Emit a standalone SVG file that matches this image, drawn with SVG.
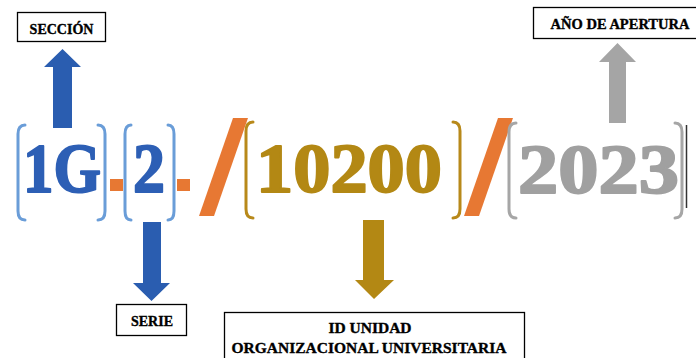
<svg xmlns="http://www.w3.org/2000/svg" width="696" height="358" viewBox="0 0 696 358">
<style>
.lbl{font-family:"Liberation Serif",serif;font-weight:bold;fill:#000;stroke:#000;stroke-width:0.35;text-anchor:middle}
.box{fill:#fff;stroke:#000;stroke-width:1.3}
.big{font-family:"Liberation Serif",serif;font-weight:bold;font-size:70px;stroke-width:2;stroke-linejoin:round}
.br{fill:none;stroke-width:3;stroke-linecap:round}
</style>
<rect width="696" height="358" fill="#fff"/>
<g id="code">
  <g id="seg-seccion">
    <path class="br" stroke="#6A9DD8" d="M25,125 Q18,125 18,134 V211 Q18,220 25,220"/>
    <path class="br" stroke="#6A9DD8" d="M98,125 Q105,125 105,134 V211 Q105,220 98,220"/>
    <text class="big" x="23" y="192" fill="#2D5FB5" stroke="#2D5FB5" textLength="78" lengthAdjust="spacingAndGlyphs">1G</text>
  </g>
  <rect x="110" y="179" width="13" height="12" fill="#E77833"/>
  <g id="seg-serie">
    <path class="br" stroke="#6A9DD8" d="M131,125 Q125,125 125,134 V211 Q125,220 131,220"/>
    <path class="br" stroke="#6A9DD8" d="M168,125 Q174,125 174,134 V211 Q174,220 168,220"/>
    <text class="big" x="133" y="192" fill="#2D5FB5" stroke="#2D5FB5" textLength="32" lengthAdjust="spacingAndGlyphs">2</text>
  </g>
  <rect x="177" y="179" width="13" height="12" fill="#E77833"/>
  <polygon points="233,118 248,118 214,216 199,216" fill="#E77833"/>
  <g id="seg-unidad">
    <path class="br" stroke="#B8891A" d="M253,122 Q246,122 246,131 V209 Q246,218 253,218"/>
    <path class="br" stroke="#B8891A" d="M453,122 Q460,122 460,131 V209 Q460,218 453,218"/>
    <text class="big" x="256" y="192" fill="#B38814" stroke="#B38814" textLength="186" lengthAdjust="spacingAndGlyphs">10200</text>
  </g>
  <polygon points="498,118 513,118 479,216 464,216" fill="#E77833"/>
  <g id="seg-anio">
    <path class="br" stroke="#A6A6A6" d="M516,123 Q509,123 509,132 V209 Q509,218 516,218"/>
    <path class="br" stroke="#A6A6A6" d="M675,123 Q682,123 682,132 V209 Q682,218 675,218"/>
    <text class="big" x="518" y="193" fill="#A0A0A0" stroke="#A0A0A0" textLength="161" lengthAdjust="spacingAndGlyphs">2023</text>
  </g>
  <line x1="686.5" y1="125" x2="686.5" y2="208" stroke="#333" stroke-width="1.5"/>
</g>
<g id="connectors">
  <polygon points="62.5,49 81,67 72,67 72,128 53,128 53,67 44,67" fill="#2A5DB0"/>
  <polygon points="143,222 161,222 161,283 170,283 151.5,301 133,283 143,283" fill="#2A5DB0"/>
  <polygon points="363,220 384,220 384,280 394,280 374,299 355,280 363,280" fill="#B38814"/>
  <polygon points="617.5,43 636,62 626,62 626,123 609,123 609,62 599,62" fill="#A5A5A5"/>
</g>
<g id="n-seccion">
  <rect class="box" x="17.5" y="12.5" width="88" height="29"/>
  <text class="lbl" x="61.5" y="34" font-size="14">SECCIÓN</text>
</g>
<g id="n-anio">
  <rect class="box" x="533.5" y="7.5" width="164" height="31"/>
  <text class="lbl" x="620" y="29" font-size="14.5">AÑO DE APERTURA</text>
</g>
<g id="n-serie">
  <rect class="box" x="116.5" y="304.5" width="70" height="31"/>
  <text class="lbl" x="152" y="326" font-size="14">SERIE</text>
</g>
<g id="n-unidad">
  <rect class="box" x="224.5" y="312.5" width="300" height="50"/>
  <text class="lbl" x="370" y="333" font-size="15.5">ID UNIDAD</text>
  <text class="lbl" x="369" y="353" font-size="15.5">ORGANIZACIONAL UNIVERSITARIA</text>
</g>
</svg>
